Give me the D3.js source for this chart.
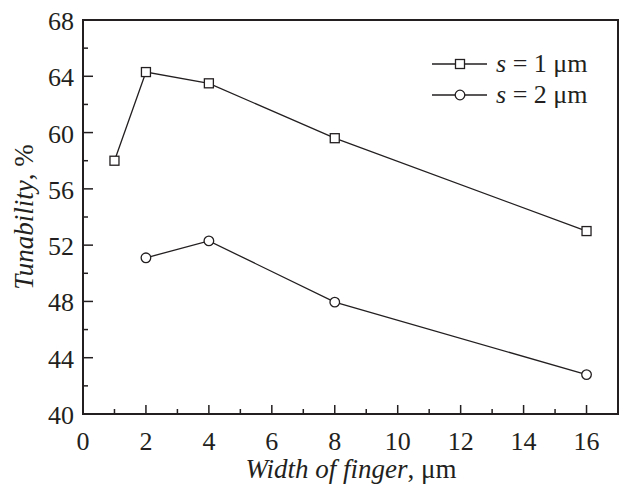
<!DOCTYPE html>
<html>
<head>
<meta charset="utf-8">
<script src="https://cdn.jsdelivr.net/npm/d3@7"></script>
<style>
  body { margin: 0; background: #fff; }
</style>
</head>
<body>
<div id="chart"></div>
<script>
// data
const widths = [1, 2, 4, 8, 16];
const s1 = [58.0, 64.3, 63.5, 59.6, 53.0];
const widths2 = [2, 4, 8, 16];
const s2 = [51.1, 52.3, 47.95, 42.8];
const xTicks = [0, 2, 4, 6, 8, 10, 12, 14, 16];
const yTicks = [40, 44, 48, 52, 56, 60, 64, 68];

const W = 620, H = 485;
const margin = {top: 20, right: 2, bottom: 71, left: 83};
const ink = "#231f20";

const svg = d3.select("#chart").append("svg")
    .attr("width", W)
    .attr("height", H)
    .attr("font-family", "Liberation Serif")
    .attr("fill", ink);

const x = d3.scaleLinear().domain([0, 17]).range([margin.left, W - margin.right]);
const y = d3.scaleLinear().domain([40, 68]).range([H - margin.bottom, margin.top]);

// frame
svg.append("rect")
    .attr("x", x(0)).attr("y", y(68))
    .attr("width", x(17) - x(0)).attr("height", y(40) - y(68))
    .attr("fill", "none").attr("stroke", ink).attr("stroke-width", 2);

// ticks inward: minor then major
const g = svg.append("g").attr("stroke", ink).attr("stroke-width", 1.5);
d3.range(1, 17).forEach(v => {
    const len = v % 2 === 0 ? 9 : 5;
    g.append("line").attr("x1", x(v)).attr("x2", x(v))
        .attr("y1", y(40)).attr("y2", y(40) - len);
});
d3.range(42, 68, 2).forEach(v => {
    const len = v % 4 === 0 ? 10 : 5;
    g.append("line").attr("x1", x(0)).attr("x2", x(0) + len)
        .attr("y1", y(v)).attr("y2", y(v));
});

// tick labels
svg.selectAll(".xl").data(xTicks).enter().append("text")
    .attr("x", d => x(d)).attr("y", y(40) + 36)
    .attr("text-anchor", "middle")
    .attr("font-size", 26)
    .text(d => d);

svg.selectAll(".yl").data(yTicks).enter().append("text")
    .attr("x", x(0) - 9).attr("y", d => y(d) + 10)
    .attr("text-anchor", "end")
    .attr("font-size", 26)
    .text(d => d);

// axis titles
const xt = svg.append("text")
    .attr("x", 351).attr("y", 478)
    .attr("text-anchor", "middle")
    .attr("font-size", 27);
xt.append("tspan").attr("font-style", "italic").text("Width of finger");
xt.append("tspan").text(", μm");

const yt = svg.append("text")
    .attr("transform", "translate(33," + 217 + ") rotate(-90)")
    .attr("text-anchor", "middle")
    .attr("font-size", 27);
yt.append("tspan").attr("font-style", "italic").text("Tunability");
yt.append("tspan").text(", %");

// lines
const line = d3.line().x(d => x(d[0])).y(d => y(d[1]));
const d1 = widths.map((w, i) => [w, s1[i]]);
const d2 = widths2.map((w, i) => [w, s2[i]]);

svg.append("path").datum(d1).attr("d", line)
    .attr("fill", "none").attr("stroke", ink).attr("stroke-width", 1.3);
svg.append("path").datum(d2).attr("d", line)
    .attr("fill", "none").attr("stroke", ink).attr("stroke-width", 1.3);

svg.selectAll(".sq").data(d1).enter().append("rect")
    .attr("x", d => x(d[0]) - 4.5).attr("y", d => y(d[1]) - 4.5)
    .attr("width", 9).attr("height", 9)
    .attr("fill", "#fff").attr("stroke", ink).attr("stroke-width", 1.3);

svg.selectAll(".ci").data(d2).enter().append("circle")
    .attr("cx", d => x(d[0])).attr("cy", d => y(d[1]))
    .attr("r", 4.8)
    .attr("fill", "#fff").attr("stroke", ink).attr("stroke-width", 1.3);

// legend
const leg = svg.append("g");
[{lab: "1", sym: "square", yy: 64}, {lab: "2", sym: "circle", yy: 95}].forEach(e => {
    leg.append("line").attr("x1", 432).attr("x2", 487)
        .attr("y1", e.yy).attr("y2", e.yy)
        .attr("stroke", ink).attr("stroke-width", 1.3);
    if (e.sym === "square") {
        leg.append("rect").attr("x", 460 - 4.5).attr("y", e.yy - 4.5)
            .attr("width", 9).attr("height", 9)
            .attr("fill", "#fff").attr("stroke", ink).attr("stroke-width", 1.3);
    } else {
        leg.append("circle").attr("cx", 460).attr("cy", e.yy).attr("r", 4.8)
            .attr("fill", "#fff").attr("stroke", ink).attr("stroke-width", 1.3);
    }
    const t = leg.append("text").attr("x", 496).attr("y", e.yy + 8)
        .attr("font-size", 26);
    t.append("tspan").attr("font-style", "italic").text("s");
    t.append("tspan").text(" = " + e.lab + " μm");
});
</script>
</body>
</html>
